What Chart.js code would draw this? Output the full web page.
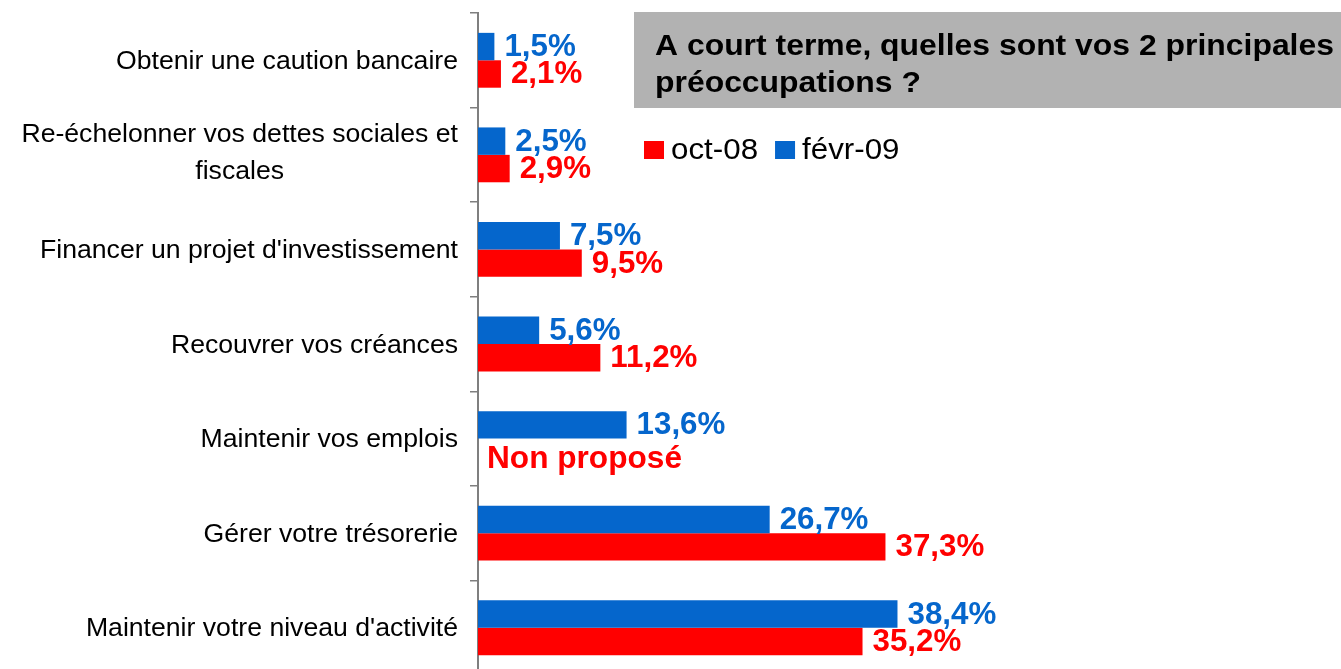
<!DOCTYPE html>
<html><head><meta charset="utf-8">
<script src="https://cdn.jsdelivr.net/npm/chart.js@4.4.1/dist/chart.umd.min.js"></script>
<style>html,body{margin:0;padding:0;background:#fff;overflow:hidden}#wrap{position:relative;width:1341px;height:680px}</style>
</head><body><div id="wrap"><canvas id="c"></canvas></div>
<script>
const categories = [
  ["Obtenir une caution bancaire"],
  ["Re-échelonner vos dettes sociales et", "fiscales"],
  ["Financer un projet d'investissement"],
  ["Recouvrer vos créances"],
  ["Maintenir vos emplois"],
  ["Gérer votre trésorerie"],
  ["Maintenir votre niveau d'activité"]
];
const seriesNames = ["févr-09", "oct-08"];
const fevr09 = [1.5, 2.5, 7.5, 5.6, 13.6, 26.7, 38.4];
const oct08 = [2.1, 2.9, 9.5, 11.2, null, 37.3, 35.2];
const missingLabel = "Non proposé";
const titleLines = ["A court terme, quelles sont vos 2 principales", "préoccupations ?"];
const legendOrder = [1, 0];
const xMax = 79;

const BLUE = '#0566CC', RED = '#FF0000', GREY = '#7F7F7F';
const FONT = '"Liberation Sans", Arial, sans-serif';

function stretched(ctx, text, x, y, sx, align) {
  ctx.save();
  ctx.translate(x, y);
  ctx.scale(sx, 1);
  ctx.textAlign = align;
  ctx.fillText(text, 0, 0);
  ctx.restore();
}
const fmt = v => v.toFixed(1).replace('.', ',') + '%';

const decor = {
  id: 'decor',
  afterDatasetsDraw(chart) {
    const ctx = chart.ctx;
    const ys = chart.scales.y, xs = chart.scales.x;
    ctx.save();
    ctx.textBaseline = 'alphabetic';
    // category labels
    ctx.font = '25px ' + FONT;
    ctx.fillStyle = '#000';
    const sxL = 1.065, right = 458;
    categories.forEach((lines, i) => {
      const c = ys.getPixelForValue(i);
      const maxW = Math.max(...lines.map(l => ctx.measureText(l).width)) * sxL;
      const n = lines.length;
      lines.forEach((l, j) => {
        const y = c + (j - (n - 1) / 2) * 37 + 8.5 - (n > 1 ? 3 : 0);
        stretched(ctx, l, right - maxW / 2, y, sxL, 'center');
      });
    });
    // data labels
    ctx.font = 'bold 31px ' + FONT;
    chart.data.datasets.forEach((ds, di) => {
      const meta = chart.getDatasetMeta(di);
      ctx.fillStyle = ds.backgroundColor;
      meta.data.forEach((el, i) => {
        const v = ds.data[i];
        if (v === null || v === undefined) {
          stretched(ctx, missingLabel, xs.getPixelForValue(0) + 9, el.y + 16, 1.02, 'left');
        } else {
          stretched(ctx, fmt(v), el.x + 10, el.y + 9.5, 1.01, 'left');
        }
      });
    });
    // title box
    ctx.fillStyle = '#B2B2B2';
    ctx.fillRect(634, 12, 707, 96);
    ctx.fillStyle = '#000';
    ctx.font = 'bold 29px ' + FONT;
    titleLines.forEach((t, k) => stretched(ctx, t, 655, 55 + k * 37, 1.1, 'left'));
    // legend
    ctx.font = '29px ' + FONT;
    let lx = 644;
    legendOrder.forEach(di => {
      const ds = chart.data.datasets[di];
      ctx.fillStyle = ds.backgroundColor;
      ctx.fillRect(lx, 141, 20, 18);
      ctx.fillStyle = '#000';
      const tx = lx + 27;
      stretched(ctx, ds.label, tx, 159, 1.08, 'left');
      lx = tx + ctx.measureText(ds.label).width * 1.08 + 17;
    });
    ctx.restore();
  }
};

new Chart(document.getElementById('c'), {
  type: 'bar',
  data: {
    labels: categories,
    datasets: [
      { label: seriesNames[0], data: fevr09, backgroundColor: BLUE },
      { label: seriesNames[1], data: oct08, backgroundColor: RED }
    ]
  },
  options: {
    indexAxis: 'y',
    responsive: true,
    maintainAspectRatio: false,
    animation: false,
    devicePixelRatio: 1,
    categoryPercentage: 0.58,
    barPercentage: 1,
    layout: { padding: { top: 13, bottom: 5, left: 0, right: 0 } },
    plugins: { legend: { display: false }, tooltip: { enabled: false }, title: { display: false } },
    scales: {
      x: { display: false, min: 0, max: xMax },
      y: {
        position: 'left',
        grid: { display: true, drawOnChartArea: false, drawTicks: true, tickLength: 8, color: GREY, lineWidth: 1.5, offset: true },
        border: { display: true, color: GREY, width: 2 },
        ticks: { display: false },
        afterFit(s) { s.width = 478; }
      }
    }
  },
  plugins: [decor]
});
</script>
</body></html>
